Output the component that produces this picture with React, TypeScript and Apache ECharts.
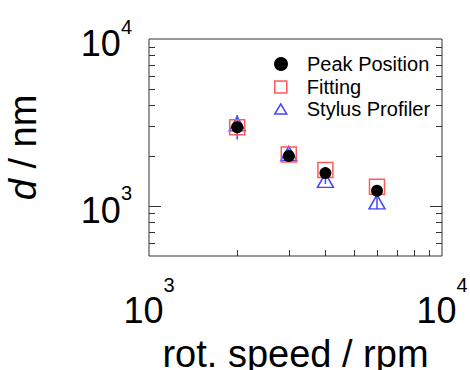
import React, { useEffect, useRef } from "react";
import * as echarts from "echarts";

const FONT = "'Liberation Sans', Arial, Helvetica, sans-serif";

// rotation speed (rpm)
const speeds = [2000, 3000, 4000, 6000];
// d (nm)
const peakPosition = [2960, 1990, 1570, 1230];
const fitting = [2960, 2030, 1640, 1300];
const stylusProfiler = [3100, 2060, 1420, 1055];
const stylusLow = [2500, 1950, 1350, 955];
const stylusHigh = [3500, 2180, 1500, 1165];

// axes
const xMin = 1000;
const xMax = 10000;
const yMin = 500;
const yMax = 10000;
const xTickValues = [2000, 3000, 4000, 5000, 6000, 7000, 8000, 9000];
const yTickValues = [600, 700, 800, 900, 1000, 2000, 3000, 4000, 5000, 6000, 7000, 8000, 9000];
const xLabelExponents = [3, 4];
const yLabelExponents = [3, 4];

const seriesNames = ["Peak Position", "Fitting", "Stylus Profiler"];

const RED = "#ff5a5a";
const BLUE = "#4646ff";
const FRAME = "#333";

function exponentOf(v: number): number | null {
  const l = Math.log10(v);
  const r = Math.round(l);
  return Math.abs(l - r) < 1e-6 ? r : null;
}

export default function App() {
  const ref = useRef<HTMLDivElement>(null);
  useEffect(() => {
    document.body.style.margin = "0";
    if (!ref.current) return;
    const chart = echarts.init(ref.current, null, { renderer: "svg" });

    const labelFormatter = (exps: number[]) => (v: number) => {
      const e = exponentOf(v);
      return e !== null && exps.indexOf(e) >= 0 ? `{m|10}{s|${e}}` : "";
    };

    const legendItem = (name: string, top: number, icon: string, h: number, itemStyle: any) => ({
      data: [{ name, icon }],
      orient: "vertical",
      left: 274,
      top,
      itemWidth: 42,
      itemHeight: h,
      itemGap: 0,
      padding: 0,
      selectedMode: false,
      symbolKeepAspect: true,
      textStyle: { fontSize: 20, color: "#000", fontFamily: FONT, lineHeight: 22 },
      itemStyle,
    });

    const option: any = {
      animation: false,
      backgroundColor: "#fff",
      textStyle: { fontFamily: FONT },
      grid: {
        left: 149,
        top: 39,
        right: 28,
        bottom: 114,
        containLabel: false,
        outerBoundsMode: "none",
        show: true,
        borderColor: FRAME,
        borderWidth: 1,
        backgroundColor: "transparent",
      },
      legend: [
        legendItem(seriesNames[0], 53, "circle", 14, { color: "#000", borderWidth: 0, opacity: 1 }),
        legendItem(seriesNames[1], 76, "path://M0,0L12,0L12,12L0,12Z", 12, {
          color: "transparent",
          borderColor: RED,
          borderWidth: 1.5,
          opacity: 1,
        }),
        legendItem(seriesNames[2], 98, "path://M6,0L12,10L0,10Z", 10, {
          color: "transparent",
          borderColor: BLUE,
          borderWidth: 1.5,
          opacity: 1,
        }),
      ],
      xAxis: {
        type: "log",
        logBase: 10,
        min: xMin,
        max: xMax,
        axisLine: { show: false },
        axisTick: { show: false },
        splitLine: { show: false },
        minorTick: { show: false },
        axisLabel: {
          formatter: labelFormatter(xLabelExponents),
          margin: 19,
          showMinLabel: true,
          showMaxLabel: true,
          rich: {
            m: { fontSize: 36, color: "#000", fontFamily: FONT, verticalAlign: "bottom" },
            s: { fontSize: 20, color: "#000", fontFamily: FONT, verticalAlign: "top", padding: [0, 0, 33, 0] },
          },
        },
        name: "rot. speed / rpm",
        nameLocation: "middle",
        nameGap: 79,
        nameTextStyle: { fontSize: 38, color: "#000", fontFamily: FONT },
      },
      yAxis: {
        type: "log",
        logBase: 10,
        min: yMin,
        max: yMax,
        axisLine: { show: false },
        axisTick: { show: false },
        splitLine: { show: false },
        minorTick: { show: false },
        axisLabel: {
          formatter: labelFormatter(yLabelExponents),
          margin: 17,
          showMinLabel: true,
          showMaxLabel: true,
          rich: {
            m: { fontSize: 36, color: "#000", fontFamily: FONT, verticalAlign: "bottom" },
            s: { fontSize: 20, color: "#000", fontFamily: FONT, verticalAlign: "top", padding: [0, 0, 25, 0] },
          },
        },
        name: "{i|d} / nm",
        nameLocation: "middle",
        nameGap: 107,
        nameTextStyle: {
          fontSize: 38,
          color: "#000",
          fontFamily: FONT,
          rich: { i: { fontSize: 38, fontStyle: "italic", color: "#000", fontFamily: FONT } },
        },
      },
      series: [
        {
          name: "yticks",
          type: "custom",
          silent: true,
          clip: false,
          data: yTickValues.map((v) => [xMin, v]),
          renderItem: (params: any, api: any) => {
            const v = api.value(1);
            const pL = api.coord([xMin, v]);
            const pR = api.coord([xMax, v]);
            const len = exponentOf(v) !== null ? 12 : 6;
            const y = Math.round(pL[1]) + 0.5;
            return {
              type: "group",
              children: [
                { type: "line", shape: { x1: pL[0], y1: y, x2: pL[0] + len, y2: y }, style: { stroke: FRAME, lineWidth: 1 } },
                { type: "line", shape: { x1: pR[0] - len, y1: y, x2: pR[0], y2: y }, style: { stroke: FRAME, lineWidth: 1 } },
              ],
            };
          },
        },
        {
          name: "xticks",
          type: "custom",
          silent: true,
          clip: false,
          data: xTickValues.map((v) => [v, yMin]),
          renderItem: (params: any, api: any) => {
            const v = api.value(0);
            const p = api.coord([v, yMin]);
            const x = Math.round(p[0]) + 0.5;
            return {
              type: "line",
              shape: { x1: x, y1: p[1], x2: x, y2: p[1] - 6 },
              style: { stroke: FRAME, lineWidth: 1 },
            };
          },
        },
        {
          name: "stylusError",
          type: "custom",
          silent: true,
          data: speeds.map((x, i) => [x, stylusLow[i], stylusHigh[i]]),
          encode: { x: 0, y: [1, 2] },
          renderItem: (params: any, api: any) => {
            const lo = api.coord([api.value(0), api.value(1)]);
            const hi = api.coord([api.value(0), api.value(2)]);
            return {
              type: "line",
              shape: { x1: lo[0], y1: lo[1], x2: hi[0], y2: hi[1] },
              style: { stroke: BLUE, lineWidth: 1.5 },
            };
          },
        },
        {
          name: seriesNames[2],
          type: "scatter",
          symbol: "triangle",
          symbolSize: [16, 14],
          data: speeds.map((x, i) => [x, stylusProfiler[i]]),
          itemStyle: { color: "transparent", borderColor: BLUE, borderWidth: 1.5, opacity: 1 },
        },
        {
          name: seriesNames[1],
          type: "scatter",
          symbol: "rect",
          symbolSize: 15,
          data: speeds.map((x, i) => [x, fitting[i]]),
          itemStyle: { color: "transparent", borderColor: RED, borderWidth: 1.5, opacity: 1 },
        },
        {
          name: seriesNames[0],
          type: "scatter",
          symbol: "circle",
          symbolSize: 12,
          data: speeds.map((x, i) => [x, peakPosition[i]]),
          itemStyle: { color: "#000", opacity: 1 },
        },
      ],
    };

    chart.setOption(option);
    return () => chart.dispose();
  }, []);

  return <div ref={ref} style={{ width: 470, height: 370 }} />;
}
